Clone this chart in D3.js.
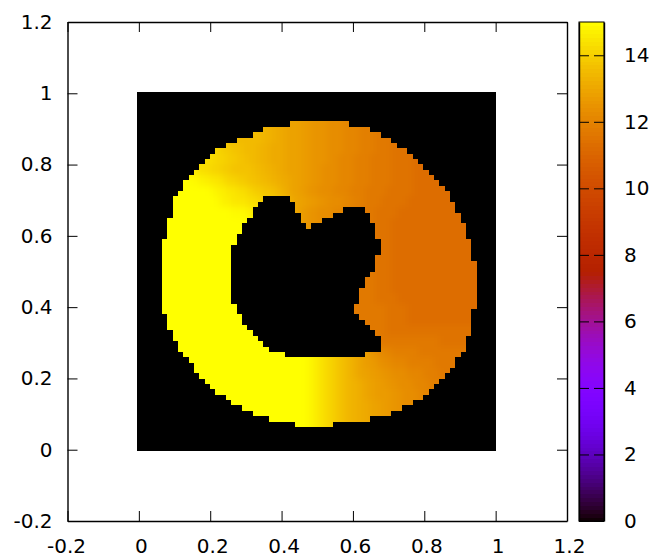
<!DOCTYPE html>
<html><head><meta charset="utf-8">
<script src="https://cdn.jsdelivr.net/npm/d3@7"></script>
<style>html,body{margin:0;padding:0;background:#fff}svg{display:block}
text{font-family:"DejaVu Sans";font-size:20px;fill:#000}</style></head>
<body><svg id="c" width="653" height="559"></svg>
<script>
// Axis ticks
const xTicks=[-0.2,0,0.2,0.4,0.6,0.8,1,1.2];
const yTicks=[-0.2,0,0.2,0.4,0.6,0.8,1,1.2];
const cbTicks=[0,2,4,6,8,10,12,14];
// Grid of 68 x 68 nodes, row 0 is y = 1
const gridSize=68;
const firstRingRow=6;
// Ring extent per row, rows 6..62
const ringFirst=[29,24,22,19,17,15,14,13,12,11,10,9,9,8,7,7,7,7,6,6,6,6,5,5,5,5,5,5,5,5,5,5,5,5,5,5,6,6,6,7,7,8,8,9,10,11,11,12,13,14,15,17,18,20,22,25,30];
const ringLast=[39,43,45,47,48,50,51,52,53,54,55,56,57,58,58,59,59,60,60,61,61,61,62,62,62,62,63,63,63,63,63,63,63,63,63,62,62,62,62,62,61,61,61,60,59,59,58,57,56,55,54,53,51,49,47,43,36];
// Hole extent per row, rows 20..49
const firstHoleRow=20;
const holeFirst=[24,23,22,22,21,20,20,19,19,18,18,18,18,18,18,18,18,18,18,18,19,19,20,20,21,22,23,24,25,28];
const holeLast=[28,29,29,30,30,31,44,44,45,45,45,44,44,44,43,42,42,41,41,41,40,40,41,42,43,44,45,45,45,42];
// Second lobe of the hole, rows 22..25
const firstLobeRow=22;
const lobeFirst=[39,37,35,33];
const lobeLast=[42,43,43,44];
// Level letters and the values they stand for
const levelKeys="abcdefghijklmnopqrst";
const levelValues=[11.3,11.5,11.7,11.9,12.1,12.3,12.5,12.7,12.9,13.1,13.3,13.5,13.7,13.9,14.1,14.3,14.5,14.7,14.9,15];
// Value read per two rows, rows 6,8,...,62; one letter per column
const valueRows=[
"llllllllll llllllllll llllkkjjii ihhgggfffe eedddcccbb bbaaaaaaaa aaaaaaaa",
"llllllllll llllllllll llllkkjjii ihhgggfffe eedddcccbb bbaaaaaaaa aaaaaaaa",
"pppppppppp ppppponnmm lllkkjjjii ihhgggfffe eedddcccbb bbaaaaaaaa aaaaaaaa",
"pppppppppp pppppoonnm mllkkjjjii ihhgggffee edddccccbb bbaaaaaaaa aaaaaaaa",
"rrrrrrrrrr qqppoonnmm mmllkkjjii ihhggfffee edddccccbb bbaaaaaaaa aaaaaaaa",
"tttttttttt ssrrqqpoon nmmllkkjji ihhggfffee edddccccbb bbaaaaaaaa aaaaaaaa",
"tttttttttt ttttsrrqqp ponnmmlkji ihggfffeee dddccccbbb bbaaaaaaaa aaaaaaaa",
"tttttttttt tttttsrrqq qpponnmlkj iihhggfffe eddcccbbbb baaaaaaaaa aaaaaaaa",
"tttttttttt ttttttttss srqponmlkj ihggfffeee ddcccbbbba aaaaaaaaaa aaaaaaaa",
"tttttttttt tttttttttt tsrqponmlk ihggfffeee ddcccbbbaa aaaaaaaaaa aaaaaaaa",
"tttttttttt tttttttttt tttttttttt hhhhhhhhhh cccccbbbaa aaaaaaaaaa aaaaaaaa",
"tttttttttt tttttttttt tttttttttt hhhhhhhhhh cccccbbbaa aaaaaaaaaa aaaaaaaa",
"tttttttttt tttttttttt tttttttttt hhhhhhhhhh cccccbbbaa aaaaaaaaaa aaaaaaaa",
"tttttttttt tttttttttt tttttttttt hhhhhhhhhh cccccbbbaa aaaaaaaaaa aaaaaaaa",
"tttttttttt tttttttttt tttttttttt hhhhhhhhhh cccccbbbaa aaaaaaaaaa aaaaaaaa",
"tttttttttt tttttttttt tttttttttt hhhhhhhhhh cccccbbbaa aaaaaaaaaa aaaaaaaa",
"tttttttttt tttttttttt tttttttttt hhhhhhhhhh cccccbbbba aaaaaaaaaa aaaaaaaa",
"tttttttttt tttttttttt tttttttttt hhhhhhhhhh cccccccbbb baaaaaaaaa aaaaaaaa",
"tttttttttt tttttttttt tttttttttt hhhhhhhhhh cccccccbbb baaaaaaaaa aaaaaaaa",
"tttttttttt tttttttttt tttttttttt ttsrqponml cccccccbbb bbbbbbbbbb bbbbbbbb",
"tttttttttt tttttttttt tttttttttt ttsrqponml dddddccccc cccccccbbb bbbbbbbb",
"tttttttttt tttttttttt tttttttttt ttsrqponml kjihgfeedd dddccccccc cccccccc",
"tttttttttt tttttttttt tttttttttt ttsrqponml kjihhgffee edddddcccc cccccccc",
"tttttttttt tttttttttt tttttttttt ttsrqponml kjiihhggff feeedddccc cccccccc",
"tttttttttt tttttttttt tttttttttt ttsrqponml kkjiihhggf ffeeedddcc cccccccc",
"tttttttttt tttttttttt tttttttttt ttsrqponml kkjiihhhgg fffeedddcc cccccccc",
"tttttttttt tttttttttt tttttttttt ttsrqponml kkjjiihhgg fffeedddcc cccccccc",
"tttttttttt tttttttttt tttttttttt ttsrqponml kkjjiihhgg fffeedddcc cccccccc",
"tttttttttt tttttttttt tttttttttt ttsrqponml kkjjiihhgg fffeedddcc cccccccc"
].map(s=>s.replace(/ /g,""));

function inRing(r,k){
  const i=r-firstRingRow;
  if(i<0||i>=ringFirst.length||k<ringFirst[i]||k>ringLast[i])return false;
  const h=r-firstHoleRow;
  if(h>=0&&h<holeFirst.length&&k>=holeFirst[h]&&k<=holeLast[h])return false;
  const l=r-firstLobeRow;
  if(l>=0&&l<lobeFirst.length&&k>=lobeFirst[l]&&k<=lobeLast[l])return false;
  return true;
}
function rowValue(r,k){
  const i=Math.max(0,Math.min(valueRows.length-1,Math.floor((r-firstRingRow)/2)));
  return levelValues[levelKeys.indexOf(valueRows[i][k])];
}

const svg=d3.select("#c");
const L=67.5,R=567,T=22,B=521;
const x=d3.scaleLinear().domain([-0.2,1.2]).range([L,R]);
const y=d3.scaleLinear().domain([-0.2,1.2]).range([B,T]);
const cb=d3.scaleLinear().domain([0,15]).range([B,T]);
const CL=579,CR=604;
// Image placement inside the plot box
const xi=d3.scaleLinear().domain([0,1]).range([138.1,495.2]);
const yi=d3.scaleLinear().domain([1,0]).range([92,451]);
// gnuplot default palette rgbformulae 7,5,15
const palette=g=>{
  const b=Math.sin(2*Math.PI*g);
  return d3.rgb(255*Math.sqrt(g),255*g*g*g,255*Math.max(0,b));
};
const color=d3.scaleSequential(palette).domain([0,15]).clamp(true);

const cells=[];
for(let r=0;r<gridSize;r++)for(let k=0;k<gridSize;k++)cells.push({r,k,v:rowValue(r,k),on:inRing(r,k)});
const den=gridSize-1;
const px0=c=>c.k===0?137:xi((c.k-0.5)/den);
const px1=c=>c.k===den?496:xi((c.k+0.5)/den);
const py0=c=>c.r===0?92:yi(1-(c.r-0.5)/den);
const py1=c=>c.r===den?451:yi(1-(c.r+0.5)/den);
function drawCells(g,list,fill){
  g.selectAll("rect").data(list).join("rect")
   .attr("x",px0).attr("y",py0)
   .attr("width",c=>px1(c)-px0(c)).attr("height",c=>py1(c)-py0(c))
   .attr("fill",fill);
}
const defs=svg.append("defs");
defs.append("filter").attr("id","smooth").attr("x",0).attr("y",0).attr("width",1).attr("height",1)
  .attr("color-interpolation-filters","sRGB")
  .append("feGaussianBlur").attr("stdDeviation",3.5).attr("edgeMode","duplicate");
defs.append("clipPath").attr("id","img").append("rect")
  .attr("x",137).attr("y",92).attr("width",359).attr("height",359);
// Value surface, softened as in the reference, then the black cells on top
drawCells(svg.append("g").attr("clip-path","url(#img)").append("g").attr("filter","url(#smooth)").attr("shape-rendering","crispEdges"),cells,c=>color(c.v));
drawCells(svg.append("g").attr("shape-rendering","crispEdges"),cells.filter(c=>!c.on),"#000");

// Colour bar
const cbSteps=d3.range(0,128);
const stepH=(B-T)/cbSteps.length;
svg.append("g").attr("shape-rendering","crispEdges").selectAll("rect").data(cbSteps).join("rect")
  .attr("x",CL).attr("width",CR-CL)
  .attr("y",i=>cb((i+1)/cbSteps.length*15)).attr("height",stepH+0.6)
  .attr("fill",i=>color((i+0.5)/cbSteps.length*15));

function style(g){
  g.selectAll(".domain").attr("stroke","#000").attr("stroke-width",1.4);
  g.selectAll(".tick line").attr("stroke","#000").attr("stroke-width",1);
  g.selectAll("text").attr("fill","#000").style("font-family","DejaVu Sans").style("font-size","20px");
}
const none=()=>"";
svg.append("g").attr("transform",`translate(0,${B})`).call(d3.axisBottom(x).tickValues(xTicks).tickFormat(String).tickSizeInner(-10).tickSizeOuter(0).tickPadding(18)).call(style)
  .selectAll("text").attr("dx",d=>d<0?-1.5:2);
svg.append("g").attr("transform",`translate(0,${T})`).call(d3.axisTop(x).tickValues(xTicks).tickFormat(none).tickSizeInner(-10).tickSizeOuter(0)).call(style);
svg.append("g").attr("transform",`translate(${L},0)`).call(d3.axisLeft(y).tickValues(yTicks).tickFormat(String).tickSizeInner(-10).tickSizeOuter(0).tickPadding(15)).call(style);
svg.append("g").attr("transform",`translate(${R},0)`).call(d3.axisRight(y).tickValues(yTicks).tickFormat(none).tickSizeInner(-10).tickSizeOuter(0)).call(style);
svg.append("g").attr("transform",`translate(${CR},0)`).call(d3.axisRight(cb).tickValues(cbTicks).tickFormat(String).tickSizeInner(-10).tickSizeOuter(0).tickPadding(20)).call(style);
svg.append("g").attr("transform",`translate(${CL},0)`).call(d3.axisLeft(cb).tickValues(cbTicks).tickFormat(none).tickSizeInner(-10).tickSizeOuter(0)).call(style);
svg.append("rect").attr("x",CL).attr("y",T).attr("width",CR-CL).attr("height",B-T).attr("fill","none").attr("stroke","#000").attr("stroke-width",1);
</script></body></html>
